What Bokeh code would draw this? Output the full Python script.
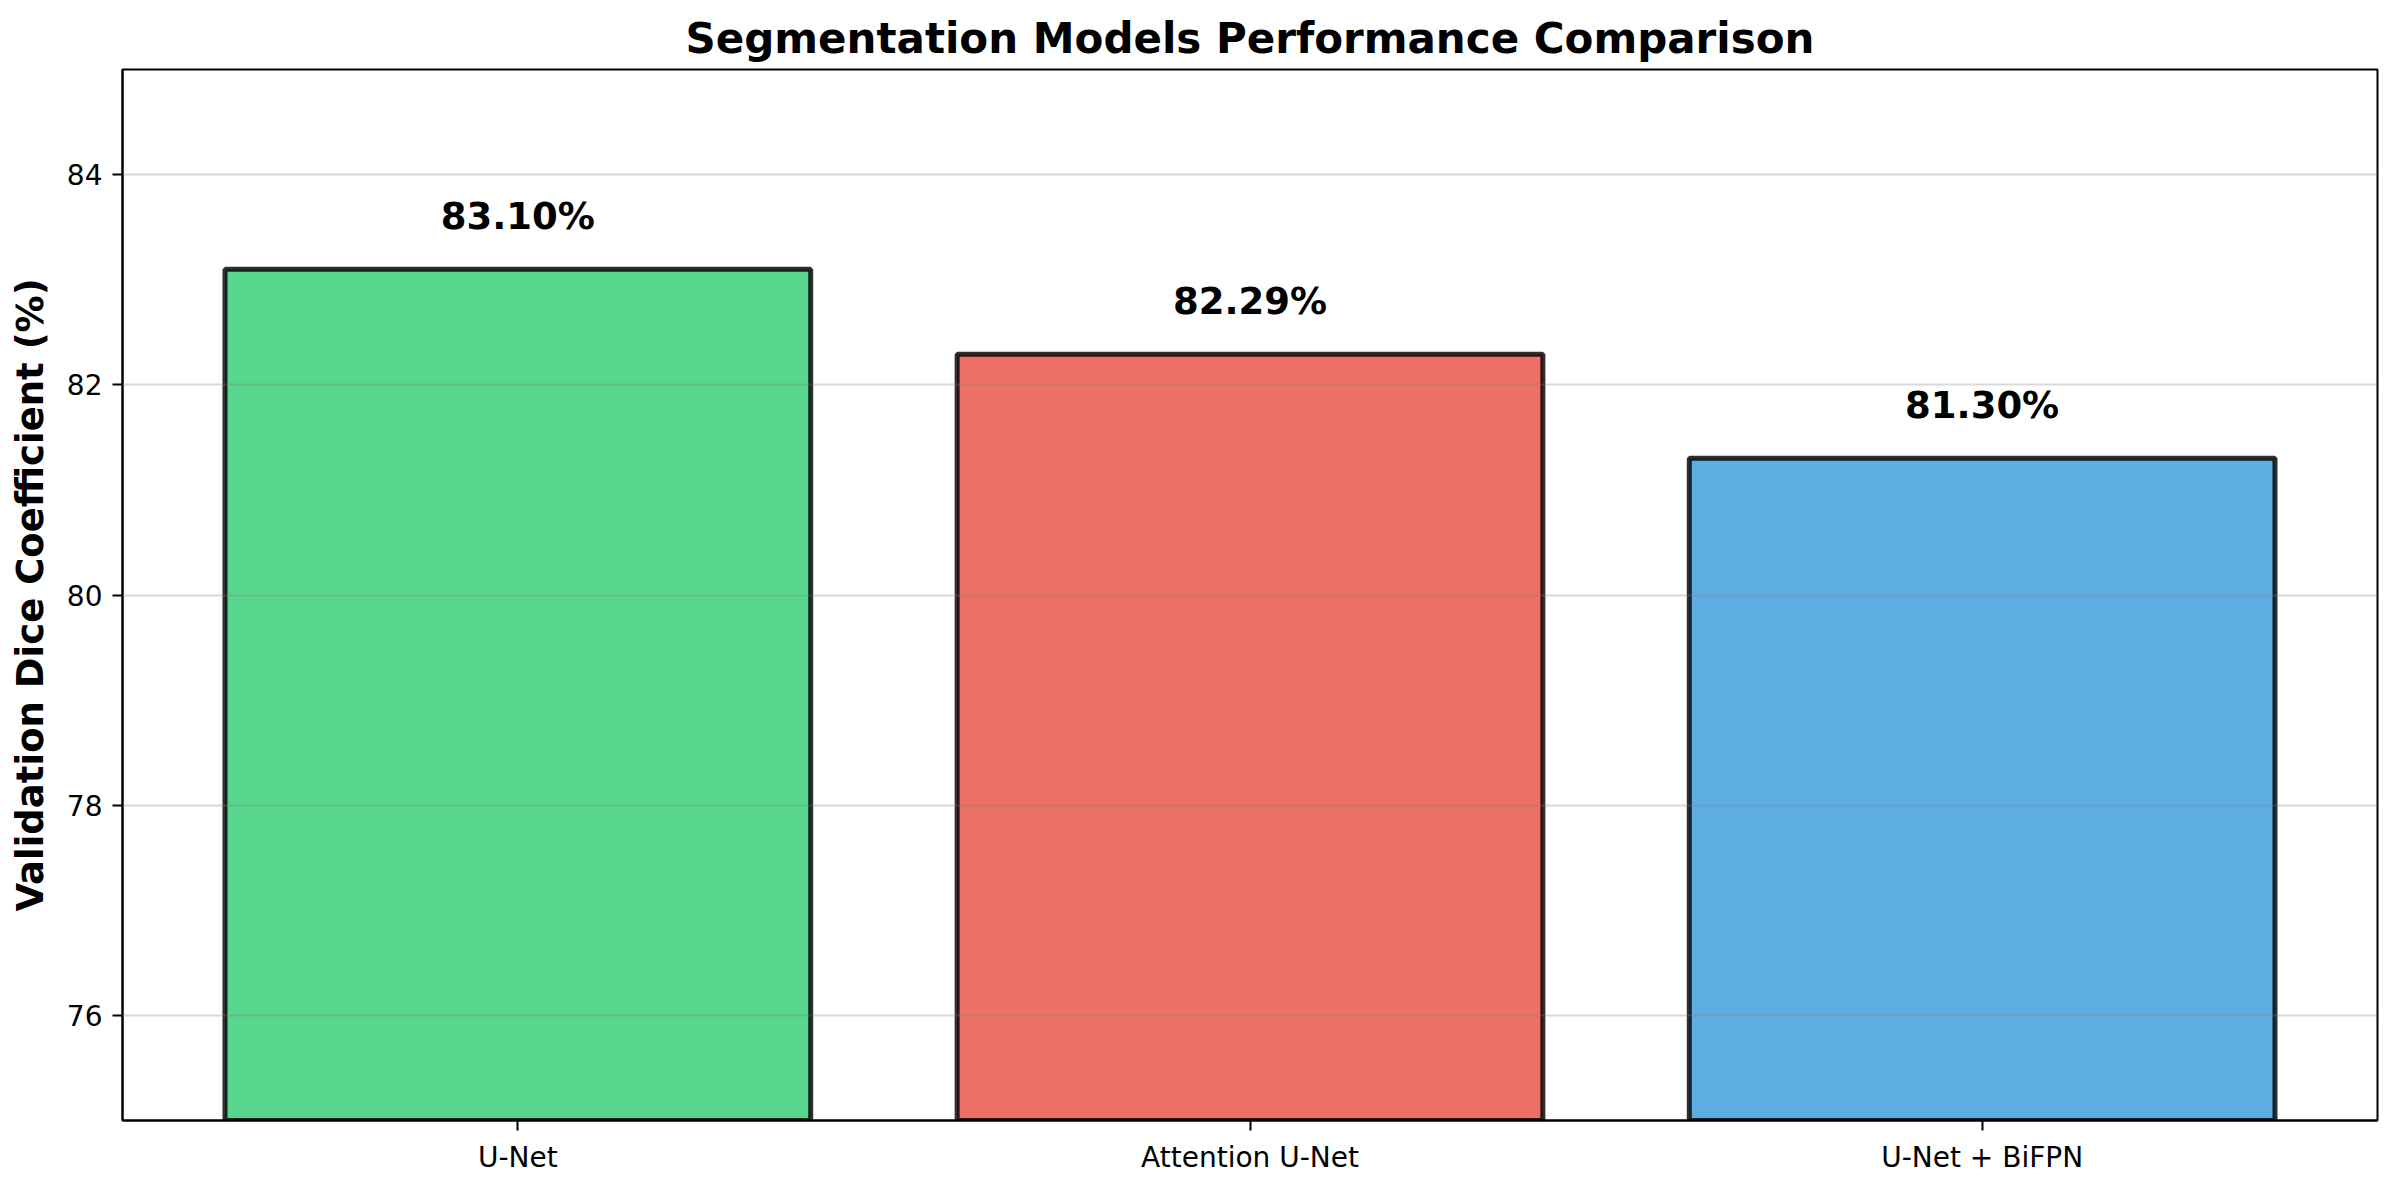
from bokeh.plotting import figure
from bokeh.models import ColumnDataSource, Range1d, FixedTicker
from bokeh.embed import file_html
from bokeh.resources import INLINE
from bokeh.core.properties import value

models = ["U-Net", "Attention U-Net", "U-Net + BiFPN"]
dice = [83.10, 82.29, 81.30]
colors = ["#2ecc71", "#e74c3c", "#3498db"]
y_ticks = [76, 78, 80, 82, 84]

xs = list(range(len(models)))
labels = [f"{v:.2f}%" for v in dice]

src = ColumnDataSource(dict(x=xs, top=dice, color=colors, label=labels))

FONT = "DejaVu Sans"

p = figure(width=2400, height=1190, output_backend="svg", toolbar_location=None,
           x_range=Range1d(-0.54, 2.54), y_range=Range1d(75, 85),
           min_border_left=122, min_border_right=23, min_border_top=69, min_border_bottom=70,
           background_fill_color="white", border_fill_color="white")

p.vbar(x="x", top="top", bottom=0, width=0.8, source=src,
       fill_color="color", fill_alpha=0.8, line_color="black", line_alpha=0.82, line_width=5)

p.text(x="x", y="top", text="label", source=src, text_align="center", text_baseline="alphabetic",
       y_offset=-53, text_font=value(FONT), text_font_style="bold", text_font_size="37px",
       text_color="black")

p.title.text = "Segmentation Models Performance Comparison"
p.title.align = "center"
p.title.text_font = FONT
p.title.text_font_style = "bold"
p.title.text_font_size = "42px"
p.title.text_color = "black"
p.title.standoff = 13

p.xgrid.visible = False
p.ygrid.ticker = FixedTicker(ticks=y_ticks)
p.ygrid.grid_line_color = "gray"
p.ygrid.grid_line_alpha = 0.3
p.ygrid.grid_line_width = 2
p.ygrid.level = "annotation"

p.xaxis.ticker = FixedTicker(ticks=xs)
p.xaxis.major_label_overrides = {i: m for i, m in zip(xs, models)}
p.yaxis.ticker = FixedTicker(ticks=y_ticks)
p.yaxis.axis_label = "Validation Dice Coefficient (%)"
p.yaxis.axis_label_text_font = FONT
p.yaxis.axis_label_text_font_style = "bold"
p.yaxis.axis_label_text_font_size = "37px"
p.yaxis.axis_label_text_color = "black"
p.yaxis.axis_label_standoff = 12

for ax in (p.xaxis, p.yaxis):
    ax.major_label_text_font = FONT
    ax.major_label_text_font_size = "28px"
    ax.major_label_text_color = "black"
    ax.major_tick_out = 10
    ax.major_tick_in = 0
    ax.major_tick_line_width = 2
    ax.major_tick_line_color = "black"
    ax.minor_tick_line_color = None
    ax.axis_line_width = 2
    ax.axis_line_color = "black"
    ax.major_label_standoff = 10

p.outline_line_color = "black"
p.outline_line_width = 2
p.outline_line_alpha = 1.0

open("out.html", "w").write(file_html(p, INLINE))
